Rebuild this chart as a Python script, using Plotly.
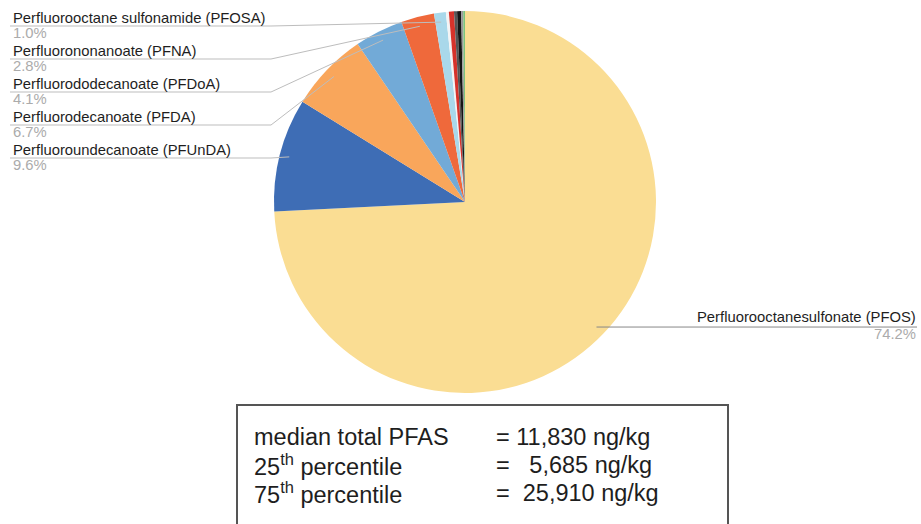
import math
import plotly.graph_objects as go

# ---- data ----
labels = [
    "Perfluorooctanesulfonate (PFOS)",
    "Perfluoroundecanoate (PFUnDA)",
    "Perfluorodecanoate (PFDA)",
    "Perfluorododecanoate (PFDoA)",
    "Perfluorononanoate (PFNA)",
    "Perfluorooctane sulfonamide (PFOSA)",
    "other 1", "other 2", "other 3", "other 4", "other 5", "other 6",
]
values = [74.2, 9.6, 6.7, 4.1, 2.8, 1.0, 0.25, 0.43, 0.26, 0.34, 0.17, 0.15]
pct_text = ["74.2%", "9.6%", "6.7%", "4.1%", "2.8%", "1.0%"]
colors = ["#FADD93", "#3E6DB5", "#F9A65B", "#72AAD7", "#EF693B", "#A9D8EA",
          "#F4F4F4", "#D6332B", "#555555", "#151515", "#9A9A9A", "#7CC47C"]

stat_names = ["median total PFAS", "25<sup>th</sup> percentile", "75<sup>th</sup> percentile"]
stat_values = ["11,830 ng/kg", "5,685 ng/kg", "25,910 ng/kg"]

# ---- layout helpers (pixel -> paper) ----
W, H = 921, 524
def px(x):
    return x / W
def py(y):
    return 1 - y / H

cx, cy, R = 465, 202, 191
FONT = "Liberation Sans, Arial, sans-serif"
LBL = 14.8
BOX = 23.5

fig = go.Figure(go.Pie(
    labels=labels, values=values, sort=False, direction="clockwise", rotation=0,
    marker=dict(colors=colors, line=dict(width=0)),
    textinfo="none", hoverinfo="label+percent",
    domain=dict(x=[px(cx - R), px(cx + R)], y=[py(cy + R), py(cy - R)]),
    showlegend=False,
))

# anchor points from the data (middle of each slice at 0.95 R)
total = sum(values)
cum = 0
anchors = []
for v in values:
    mid = (cum + v / 2) / total * 2 * math.pi
    cum += v
    r = 0.95 * R
    anchors.append((cx + r * math.sin(mid), cy - r * math.cos(mid)))

annotations = []
shapes = []

# left-side labels (PFOSA, PFNA, PFDoA, PFDA, PFUnDA), top to bottom
left_idx = [5, 4, 3, 2, 1]
name_y0, step = 18, 33
for k, i in enumerate(left_idx):
    ny = name_y0 + k * step
    annotations.append(dict(x=px(11), y=py(ny), xref="paper", yref="paper",
                            text=labels[i], showarrow=False, xanchor="left", yanchor="middle",
                            font=dict(family=FONT, size=LBL, color="#1E1E1E")))
    annotations.append(dict(x=px(11), y=py(ny + 15), xref="paper", yref="paper",
                            text=pct_text[i], showarrow=False, xanchor="left", yanchor="middle",
                            font=dict(family=FONT, size=LBL, color="#ABABAB")))
    ly = ny + 8
    ax, ay = anchors[i]
    shapes.append(dict(type="path", xref="paper", yref="paper",
                       path=f"M {px(10)},{py(ly)} L {px(271)},{py(ly)} L {px(ax)},{py(ay)}",
                       line=dict(color="#BDBDBD", width=1)))

# PFOS label on the right
ax, ay = anchors[0]
annotations.append(dict(x=px(918), y=py(ay - 10), xref="paper", yref="paper",
                        text=labels[0], showarrow=False, xanchor="right", yanchor="middle",
                        font=dict(family=FONT, size=LBL, color="#1E1E1E")))
annotations.append(dict(x=px(918), y=py(ay + 7), xref="paper", yref="paper",
                        text=pct_text[0], showarrow=False, xanchor="right", yanchor="middle",
                        font=dict(family=FONT, size=LBL, color="#ABABAB")))
shapes.append(dict(type="line", xref="paper", yref="paper",
                   x0=px(ax), y0=py(ay), x1=px(917), y1=py(ay),
                   line=dict(color="#888888", width=1)))

# statistics box
shapes.append(dict(type="rect", xref="paper", yref="paper",
                   x0=px(237), y0=py(405), x1=px(728), y1=py(540),
                   line=dict(color="#555555", width=2), fillcolor="rgba(0,0,0,0)"))
row_y = [437, 465, 493]
eq_pad = ["\u00a0", "\u00a0\u00a0\u00a0", "\u00a0\u00a0"]
for k in range(3):
    annotations.append(dict(x=px(252), y=py(row_y[k]), xref="paper", yref="paper",
                            text=stat_names[k], showarrow=False, xanchor="left", yanchor="middle",
                            font=dict(family=FONT, size=BOX, color="#1E1E1E")))
    annotations.append(dict(x=px(494), y=py(row_y[k]), xref="paper", yref="paper",
                            text="=" + eq_pad[k] + stat_values[k], showarrow=False,
                            xanchor="left", yanchor="middle",
                            font=dict(family=FONT, size=BOX, color="#1E1E1E")))

fig.update_layout(width=W, height=H, margin=dict(l=0, r=0, t=0, b=0),
                  paper_bgcolor="white", plot_bgcolor="white",
                  annotations=annotations, shapes=shapes)

fig.write_html("out.html", config={"displayModeBar": False},
               post_script="document.body.style.margin='0';document.body.style.overflow='hidden';")
